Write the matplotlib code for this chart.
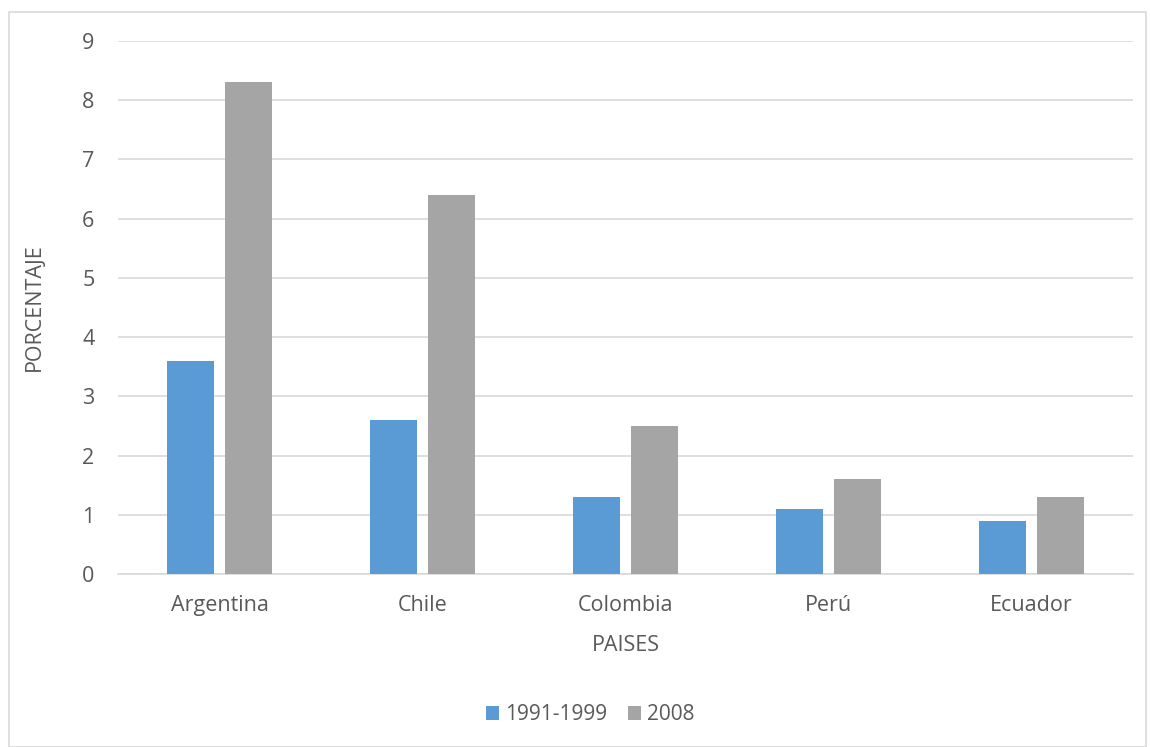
import matplotlib
matplotlib.use("Agg")
import matplotlib.pyplot as plt
import numpy as np
from matplotlib.patches import Rectangle

countries = ["Argentina", "Chile", "Colombia", "Perú", "Ecuador"]
series_labels = ["1991-1999", "2008"]
values_1991_1999 = [3.6, 2.6, 1.3, 1.1, 0.9]
values_2008 = [8.3, 6.4, 2.5, 1.6, 1.3]
y_ticks = [0, 1, 2, 3, 4, 5, 6, 7, 8, 9]

plt.rcParams['font.family'] = ['Open Sans', 'DejaVu Sans']
text_color = "#595959"
grid_color = "#d9d9d9"
blue = "#5B9BD5"
gray = "#A5A5A5"
fs = 15.5

W, H = 1150, 747
fig = plt.figure(figsize=(W / 100, H / 100), dpi=100)
fig.patches.append(Rectangle((9 / W, 0), (1146 - 9) / W, 1 - 12 / H,
                             transform=fig.transFigure, fill=False,
                             edgecolor=grid_color, linewidth=1.2))

ax = fig.add_axes([118 / W, 1 - 574 / H, (1133 - 118) / W, (574 - 41) / H])

x = np.arange(len(countries))
bw = 0.227
off = 0.143
ax.bar(x - off, values_1991_1999, bw, color=blue, label=series_labels[0], zorder=3)
ax.bar(x + off, values_2008, bw, color=gray, label=series_labels[1], zorder=3)

ax.set_xlim(-0.5, len(countries) - 0.5)
ax.set_ylim(0, 9)
ax.set_yticks(y_ticks)
ax.set_xticks(x)
ax.set_xticklabels(countries)
ax.yaxis.grid(True, color=grid_color, linewidth=1.2, zorder=0)
ax.set_axisbelow(True)
for s in ["top", "right", "left"]:
    ax.spines[s].set_visible(False)
ax.spines["bottom"].set_color(grid_color)
ax.spines["bottom"].set_linewidth(1.2)
ax.tick_params(axis="both", length=0, labelsize=fs, colors=text_color)
ax.tick_params(axis="y", pad=17)
ax.tick_params(axis="x", pad=15)

ax.set_xlabel("PAISES", fontsize=fs, color=text_color, labelpad=14)
ax.set_ylabel("PORCENTAJE", fontsize=fs, color=text_color, labelpad=27)

fig.legend(loc="center", bbox_to_anchor=(590 / W, 1 - 715 / H), ncol=2,
           frameon=False, fontsize=15, labelcolor=text_color,
           handlelength=0.62, handleheight=0.62, handletextpad=0.3,
           columnspacing=1.0)

fig.savefig("out.png", dpi=100)
